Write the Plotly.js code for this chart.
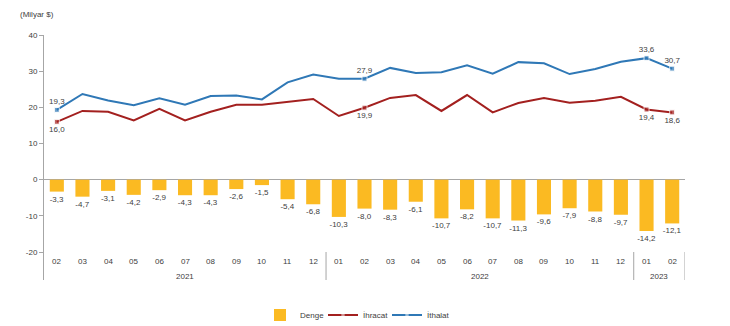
<!DOCTYPE html>
<html>
<head>
<meta charset="utf-8">
<script src="https://cdn.plot.ly/plotly-3.0.1.min.js"></script>
<style>html,body{margin:0;padding:0;background:#fff;}#chart{width:730px;height:326px;}</style>
</head>
<body>
<div id="chart"></div>
<script>
// Month labels (2021-02 .. 2023-02)
const months = ['02','03','04','05','06','07','08','09','10','11','12',
                '01','02','03','04','05','06','07','08','09','10','11','12',
                '01','02'];
const years = ['2021','2022','2023'];
const yearStart = [0, 11, 23];
const yearEnd = [10, 22, 24];

// Y axis ticks
const yTicks = [-20, -10, 0, 10, 20, 30, 40];
const yTickText = ['-20', '-10', '0', '10', '20', '30', '40'];

// Series (Milyar $)
const denge = [-3.3,-4.7,-3.1,-4.2,-2.9,-4.3,-4.3,-2.6,-1.5,-5.4,-6.8,
               -10.3,-8.0,-8.3,-6.1,-10.7,-8.2,-10.7,-11.3,-9.6,-7.9,-8.8,-9.7,
               -14.2,-12.1];
const ihracat = [16.0,19.0,18.8,16.4,19.6,16.4,18.8,20.7,20.7,21.5,22.3,
                 17.6,19.9,22.6,23.4,19.0,23.4,18.6,21.2,22.6,21.3,21.8,22.9,
                 19.4,18.6];
const ithalat = [19.3,23.7,21.9,20.6,22.5,20.7,23.1,23.3,22.2,26.9,29.1,
                 27.9,27.9,30.9,29.5,29.7,31.6,29.3,32.5,32.2,29.2,30.6,32.6,
                 33.6,30.7];
// Points that carry a value label
const labeledIdx = [0, 12, 23, 24];
const ihracatLabelPos = ['bottom center','bottom center','bottom center','bottom center'];
const ithalatLabelPos = ['top center','top center','top center','top center'];

const fmt = v => v.toFixed(1).replace('.', ',');
const xs = months.map((m, i) => i);

function labelText(arr){ return arr.map((v,i)=> labeledIdx.includes(i) ? fmt(v) : ''); }
function markerSizes(arr){ return arr.map((v,i)=> labeledIdx.includes(i) ? 5 : 0); }
function positions(arr, pos){ return arr.map((v,i)=> { const k = labeledIdx.indexOf(i); return k>=0 ? pos[k] : 'top center'; }); }

const textColor = '#404040';
const axisColor = '#A6A6A6';
const font = {family: '"Liberation Sans", Arial, sans-serif', size: 8, color: textColor};

const traces = [
  {
    type: 'bar', name: 'Denge', x: xs, y: denge, legend: 'legend',
    marker: {color: '#FBBA22'},
    text: denge.map(fmt), textposition: 'outside', cliponaxis: false, constraintext: 'none',
    textfont: {size: 8, color: textColor}, hoverinfo: 'y'
  },
  {
    type: 'scatter', mode: 'lines+markers+text', name: 'İhracat', x: xs, y: ihracat, legend: 'legend2',
    line: {color: '#A3201F', width: 2},
    marker: {symbol: 'square', color: '#A3201F', size: markerSizes(ihracat)},
    text: labelText(ihracat), textposition: positions(ihracat, ihracatLabelPos),
    textfont: {size: 8, color: textColor}, cliponaxis: false
  },
  {
    type: 'scatter', mode: 'lines+markers+text', name: 'İthalat', x: xs, y: ithalat, legend: 'legend3',
    line: {color: '#2F78B6', width: 2},
    marker: {symbol: 'square', color: '#2F78B6', size: markerSizes(ithalat)},
    text: labelText(ithalat), textposition: positions(ithalat, ithalatLabelPos),
    textfont: {size: 8, color: textColor}, cliponaxis: false
  }
];

const annotations = [];
months.forEach((m, i) => annotations.push({
  x: i, y: -22.7, xref: 'x', yref: 'y', text: m, showarrow: false,
  font: font, xanchor: 'center', yanchor: 'middle'
}));
years.forEach((yr, k) => annotations.push({
  x: (yearStart[k] + yearEnd[k]) / 2, y: -26.7, xref: 'x', yref: 'y', text: yr, showarrow: false,
  font: font, xanchor: 'center', yanchor: 'middle'
}));
annotations.push({
  x: (18 - 44) / 641, y: (280 - 15) / 245, xref: 'paper', yref: 'paper', text: '(Milyar $)', showarrow: false,
  font: font, xanchor: 'left', yanchor: 'middle'
});

const shapes = yearEnd.map(e => ({
  type: 'line', xref: 'x', yref: 'y', x0: e + 0.5, x1: e + 0.5, y0: -20, y1: -27.74,
  line: {color: axisColor, width: 1}
}));

function legendAt(px){
  return {orientation: 'h', xref: 'container', yref: 'container',
          x: px / 730, xanchor: 'left', y: 1 - 315 / 326, yanchor: 'middle',
          font: font, itemwidth: 30, bgcolor: 'rgba(0,0,0,0)'};
}

const layout = {
  width: 730, height: 326,
  margin: {l: 44, r: 45, t: 35, b: 46},
  paper_bgcolor: '#fff', plot_bgcolor: '#fff',
  font: font,
  showlegend: true,
  legend: legendAt(260),
  legend2: legendAt(323),
  legend3: legendAt(387),
  bargap: 0.45,
  xaxis: {range: [-0.5, 24.5], showticklabels: false, showgrid: false, zeroline: false,
          showline: false, ticks: '', fixedrange: true, automargin: false},
  yaxis: {range: [-27.74, 40], tickmode: 'array', tickvals: yTicks, ticktext: yTickText, showgrid: false,
          zeroline: true, zerolinecolor: axisColor, zerolinewidth: 1,
          showline: true, linecolor: axisColor, linewidth: 1,
          ticks: 'outside', ticklen: 4, tickcolor: axisColor,
          tickfont: font, fixedrange: true, automargin: false},
  annotations: annotations,
  shapes: shapes
};

Plotly.newPlot('chart', traces, layout, {displayModeBar: false, staticPlot: true});
</script>
</body>
</html>
